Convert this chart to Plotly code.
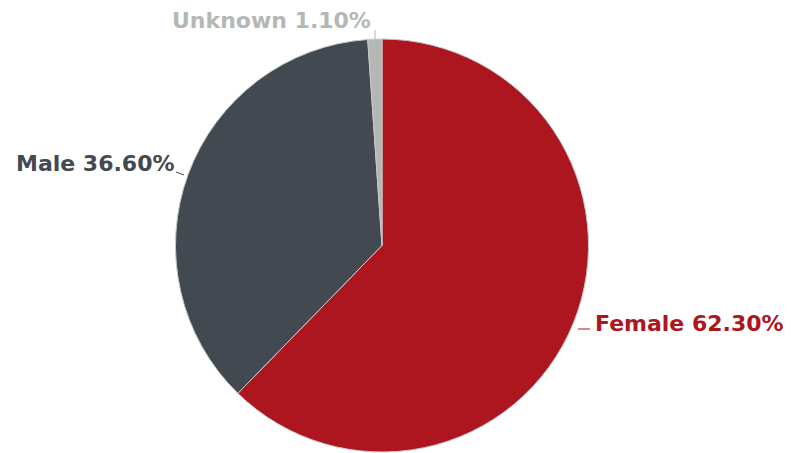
import plotly.graph_objects as go

labels = ["Female", "Male", "Unknown"]
values = [62.30, 36.60, 1.10]
colors = ["#AD151F", "#434951", "#B4B7B4"]
text_colors = ["#AD151F", "#434951", "#B3B8B4"]

W, H = 798, 453

fig = go.Figure(go.Pie(
    labels=labels,
    values=values,
    sort=False,
    direction="clockwise",
    rotation=0,
    marker=dict(colors=colors, line=dict(color="#C8C8C8", width=1)),
    textinfo="none",
    domain=dict(x=[175 / W, 589 / W], y=[(H - 452) / H, (H - 39) / H]),
    showlegend=False,
    hoverinfo="skip",
))

# label placement (pixel coords from top-left): x, y-center, anchor
label_pos = {
    "Female": (593, 323, "left"),
    "Male": (177, 163, "right"),
    "Unknown": (373, 20, "right"),
}
for lab, val, col in zip(labels, values, text_colors):
    x, y, anc = label_pos[lab]
    fig.add_annotation(
        x=x / W, y=1 - y / H, xref="paper", yref="paper",
        text=f"{lab} {val:.2f}%", showarrow=False,
        xanchor=anc, yanchor="middle",
        font=dict(family="DejaVu Sans", size=22, color=col, weight="bold"),
    )

# small leader lines
leaders = [
    ((578, 329), (590, 329), "#AD151F"),
    ((176, 172), (184, 175), "#434951"),
    ((375, 30), (375, 39), "#B3B8B4"),
]
for (x0, y0), (x1, y1), c in leaders:
    fig.add_shape(type="line", xref="paper", yref="paper",
                  x0=x0 / W, y0=1 - y0 / H, x1=x1 / W, y1=1 - y1 / H,
                  line=dict(color=c, width=1))

fig.update_layout(
    width=W, height=H,
    margin=dict(l=0, r=0, t=0, b=0),
    paper_bgcolor="white", plot_bgcolor="white",
)
fig.write_html("out.html", config={"displayModeBar": False},
               post_script="document.body.style.margin='0';")
